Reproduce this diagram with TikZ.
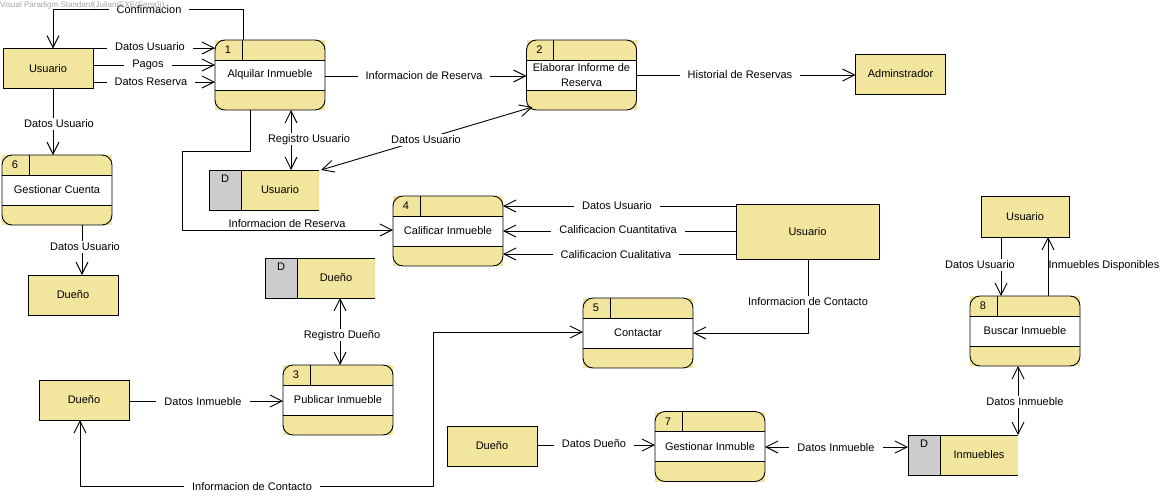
\documentclass[tikz,border=0pt]{standalone}
\usepackage{fontspec}
\setmainfont{Liberation Sans}
\usetikzlibrary{arrows.meta}

\definecolor{dfdyellow}{RGB}{242,230,158}
\definecolor{storegrey}{RGB}{204,204,204}

\tikzset{
  proc/.style={rectangle, fill=dfdyellow, minimum width=110pt, minimum height=70pt, inner sep=0pt, outer sep=0pt},
  entity/.style={rectangle, draw, line width=0.9pt, fill=dfdyellow, minimum width=90pt, minimum height=40pt, inner sep=0pt, outer sep=0pt},
  store/.style={rectangle, fill=dfdyellow, minimum width=110pt, minimum height=40pt, inner sep=0pt, outer sep=0pt},
  barb/.tip={Straight Barb[length=12pt,width=12pt]},
  flow/.style={draw, line width=0.9pt, -barb},
  biflow/.style={draw, line width=0.9pt, barb-barb},
  lbl/.style={fill=white, inner xsep=8pt, inner ysep=1pt, text height=8pt, text depth=2pt},
  plainlbl/.style={inner sep=0pt, text height=8pt, text depth=2pt},
}

% process: name, centre, number, title
\newcommand\dfdproc[4]{%
  \node[proc] (#1) at (#2) {};
  \fill[white] ([yshift=15pt]#1.west) rectangle ([yshift=-15pt]#1.east);
  \draw[line width=0.9pt] ([yshift=15pt]#1.west) -- ([yshift=15pt]#1.east)
     ([yshift=-15pt]#1.west) -- ([yshift=-15pt]#1.east)
     ([xshift=27pt]#1.north west) -- ([xshift=27pt,yshift=15pt]#1.west);
  \draw[line width=0.9pt, rounded corners=10pt] (#1.north west) rectangle (#1.south east);
  \node (#1-num) at ([xshift=13pt,yshift=-10pt]#1.north west) {#3};
  \node[align=center] (#1-txt) at (#1.center) {#4};
}

% data store: name, centre, title
\newcommand\dfdstore[3]{%
  \node[store] (#1) at (#2) {};
  \filldraw[fill=storegrey, line width=0.9pt] (#1.north west) rectangle ([xshift=32pt]#1.south west);
  \draw[line width=0.9pt] (#1.north west) -- (#1.north east) (#1.south west) -- (#1.south east);
  \node (#1-d) at ([xshift=16pt,yshift=-9pt]#1.north west) {D};
  \node (#1-txt) at ([xshift=16pt]#1.center) {#3};
}

\begin{document}
\begin{tikzpicture}[x=1pt, y=-1pt, font=\fontsize{11}{15}\selectfont]
\useasboundingbox[fill=white] (0,0) rectangle (1173,498);

% processes
\dfdproc{p1}{270,75}{1}{Alquilar Inmueble}
\dfdproc{p2}{581.5,75}{2}{Elaborar Informe de\\Reserva}
\dfdproc{p3}{338,400}{3}{Publicar Inmueble}
\dfdproc{p4}{448,231}{4}{Calificar Inmueble}
\dfdproc{p5}{638,333}{5}{Contactar}
\dfdproc{p6}{57,190}{6}{Gestionar Cuenta}
\dfdproc{p7}{710,446.5}{7}{Gestionar Inmuble}
\dfdproc{p8}{1025,331}{8}{Buscar Inmueble}

% external entities
\node[entity] (u1) at (48,68.5) {Usuario};
\node[entity] (adm) at (900.5,74) {Adminstrador};
\node[entity] (d1) at (73,295) {Dueño};
\node[entity, minimum width=143pt, minimum height=55pt] (u2) at (807.5,231.5) {Usuario};
\node[entity] (d2) at (84,400) {Dueño};
\node[entity] (d3) at (492,446) {Dueño};
\node[entity, minimum width=88pt, minimum height=41pt] (u3) at (1025,216.5) {Usuario};

% data stores
\dfdstore{su}{264,190}{Usuario}
\dfdstore{sd}{320,278}{Dueño}
\dfdstore{si}{963,455}{Inmuebles}

% flows
\draw[flow] (p1.north -| 243,0) -- ++(0,-31) -| (u1.north -| 53,0);
\draw[flow] (u1.east |- 0,48) -- (p1.west |- 0,48);
\draw[flow] (u1.east |- 0,65) -- (p1.west |- 0,65);
\draw[flow] (u1.east |- 0,82) -- (p1.west |- 0,82);
\draw[flow] (u1.south -| 53,0) -- (p6.north -| 53,0);
\draw[flow] (p6.south -| 82,0) -- (d1.north -| 82,0);
\draw[flow] (p1.east |- 0,76) -- (p2.west |- 0,76);
\draw[flow] (p2.east |- 0,75) -- (adm.west |- 0,75);
\draw[biflow] (p1.south -| 291,0) -- (su.north -| 291,0);
\draw[flow] (p1.south -| 250,0) |- (182,151) |- (p4.west |- 0,230);
\draw[biflow] ([xshift=6pt,yshift=3pt]p2.south west) -- ([xshift=2pt]su.north east);
\draw[flow] (u2.west |- 0,206) -- (p4.east |- 0,206);
\draw[flow] (u2.west |- 0,231) -- (p4.east |- 0,231);
\draw[flow] (u2.west |- 0,254) -- (p4.east |- 0,254);
\draw[flow] (u2.south -| 808,0) |- (p5.east |- 0,333);
\draw[biflow] (d2.south -| 80,0) |- (433,486) |- (p5.west |- 0,332);
\draw[flow] (d2.east |- 0,401) -- (p3.west |- 0,401);
\draw[biflow] (sd.south -| 340,0) -- (p3.north -| 340,0);
\draw[flow] (d3.east |- 0,445) -- (p7.west |- 0,445);
\draw[biflow] (p7.east |- 0,447) -- (si.west |- 0,447);
\draw[biflow] (p8.south -| 1018,0) -- (si.north -| 1018,0);
\draw[flow] (u3.south -| 1001,0) -- (p8.north -| 1001,0);
\draw[flow] (p8.north -| 1048,0) -- (u3.south -| 1048,0);

% flow labels
\node[lbl] (lc) at (149,10) {Confirmacion};
\node[lbl] (l1) at (150,47.5) {Datos Usuario};
\node[lbl] (l2) at (148,64.5) {Pagos};
\node[lbl] (l3) at (151,82) {Datos Reserva};
\node[lbl] (l4) at (59,124) {Datos Usuario};
\node[lbl] (l5) at (85,247) {Datos Usuario};
\node[lbl] (l6) at (424,76) {Informacion de Reserva};
\node[lbl] (l7) at (740,75) {Historial de Reservas};
\node[lbl] (l8) at (309,139) {Registro Usuario};
\node[plainlbl] (l9) at (287,224.5) {Informacion de Reserva};
\node[lbl] (l10) at (426,140) {Datos Usuario};
\node[lbl] (l11) at (617,206) {Datos Usuario};
\node[lbl] (l12) at (618,230.5) {Calificacion Cuantitativa};
\node[lbl] (l13) at (616,255) {Calificacion Cualitativa};
\node[lbl] (l14) at (808,302) {Informacion de Contacto};
\node[lbl] (l15) at (252,487) {Informacion de Contacto};
\node[lbl] (l16) at (203,402) {Datos Inmueble};
\node[lbl] (l17) at (342,335) {Registro Dueño};
\node[lbl] (l18) at (594,444) {Datos Dueño};
\node[lbl] (l19) at (836,448) {Datos Inmueble};
\node[lbl] (l20) at (1025,402) {Datos Inmueble};
\node[lbl] (l21) at (980,265) {Datos Usuario};
\node[plainlbl] (l22) at (1104,265) {Inmuebles Disponibles};

% editor watermark
\node[anchor=west, inner sep=0pt, text=gray!70, font=\fontsize{8}{9}\selectfont] (wm) at (0,5) {Visual Paradigm Standard(Julian(EXE(Sena)))};
\end{tikzpicture}
\end{document}
